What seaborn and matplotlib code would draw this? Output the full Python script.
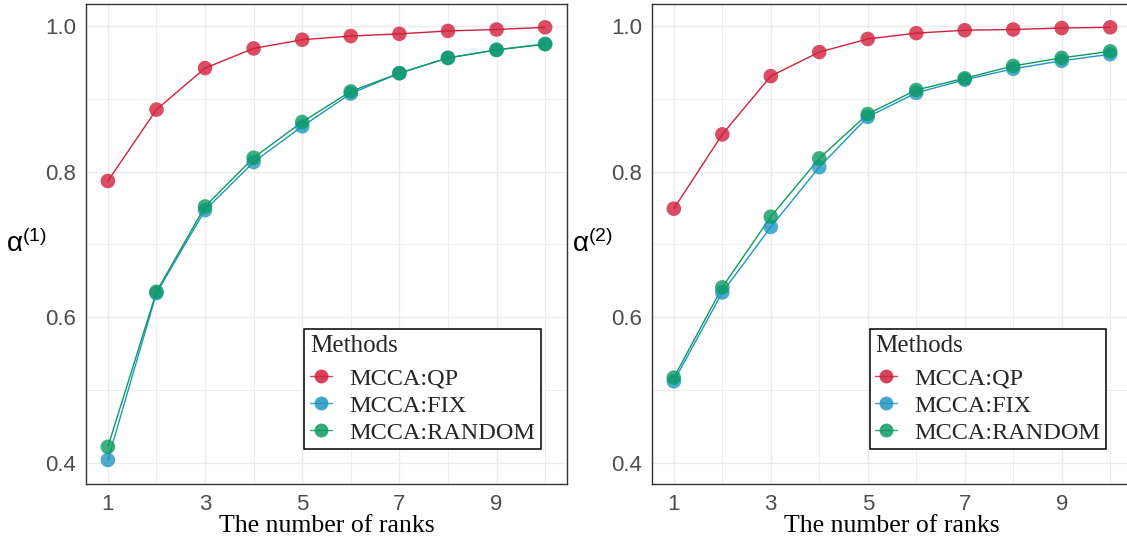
import numpy as np
import pandas as pd
import matplotlib
matplotlib.use("Agg")
import matplotlib.pyplot as plt
from matplotlib.lines import Line2D
from matplotlib.ticker import FixedLocator
import seaborn as sns

# ---------------- data ----------------
ranks = [1, 2, 3, 4, 5, 6, 7, 8, 9, 10]
methods = ["MCCA:QP", "MCCA:FIX", "MCCA:RANDOM"]

alpha1_qp = [0.787, 0.885, 0.942, 0.969, 0.981, 0.986, 0.989, 0.993, 0.995, 0.998]
alpha1_fix = [0.404, 0.633, 0.747, 0.813, 0.862, 0.907, 0.935, 0.956, 0.967, 0.975]
alpha1_random = [0.422, 0.635, 0.752, 0.819, 0.868, 0.910, 0.935, 0.956, 0.967, 0.975]

alpha2_qp = [0.749, 0.851, 0.931, 0.964, 0.982, 0.990, 0.994, 0.995, 0.997, 0.998]
alpha2_fix = [0.512, 0.634, 0.724, 0.806, 0.875, 0.908, 0.926, 0.941, 0.952, 0.961]
alpha2_random = [0.517, 0.641, 0.738, 0.818, 0.879, 0.912, 0.928, 0.945, 0.956, 0.965]

x_ticks = [1, 3, 5, 7, 9]
y_ticks = [0.4, 0.6, 0.8, 1.0]
y_labels = ["0.4", "0.6", "0.8", "1.0"]

palette = {"MCCA:QP": "#D1203D", "MCCA:FIX": "#1F97C2", "MCCA:RANDOM": "#0D9A61"}


def make_df(qp, fix, rnd):
    frames = []
    for m, vals in zip(methods, [qp, fix, rnd]):
        frames.append(pd.DataFrame({"rank": ranks, "value": vals, "method": m}))
    return pd.concat(frames, ignore_index=True)


df1 = make_df(alpha1_qp, alpha1_fix, alpha1_random)
df2 = make_df(alpha2_qp, alpha2_fix, alpha2_random)

# ---------------- style ----------------
sns.set_theme(style="white")
plt.rcParams["font.family"] = ["Liberation Sans", "DejaVu Sans"]
plt.rcParams["mathtext.fontset"] = "custom"
plt.rcParams["mathtext.rm"] = "Liberation Sans"
plt.rcParams["mathtext.it"] = "Liberation Sans:italic"

W, H = 1127, 540
fig = plt.figure(figsize=(W / 100, H / 100), dpi=100)
fig.patch.set_facecolor("white")

ax1 = fig.add_axes([86 / W, (H - 484) / H, 481 / W, 480 / H])
ax2 = fig.add_axes([652 / W, (H - 484) / H, 480 / W, 480 / H])

serif = "Liberation Serif"

for ax, df, lab in [(ax1, df1, r"$\mathrm{\alpha}^{(1)}$"), (ax2, df2, r"$\mathrm{\alpha}^{(2)}$")]:
    ax.set_facecolor("white")
    # grid
    ax.xaxis.set_major_locator(FixedLocator(x_ticks))
    ax.xaxis.set_minor_locator(FixedLocator([2, 4, 6, 8, 10]))
    ax.yaxis.set_major_locator(FixedLocator(y_ticks))
    ax.yaxis.set_minor_locator(FixedLocator([0.5, 0.7, 0.9]))
    ax.grid(True, which="major", color="#EBEBEB", linewidth=1.0)
    ax.grid(True, which="minor", color="#EBEBEB", linewidth=0.6)
    ax.set_axisbelow(True)

    sns.lineplot(data=df, x="rank", y="value", hue="method", hue_order=methods,
                 palette=palette, linewidth=1.0, legend=False, ax=ax, zorder=2)
    sns.scatterplot(data=df, x="rank", y="value", hue="method", hue_order=methods,
                    palette=palette, s=110, alpha=0.8, edgecolor="none",
                    legend=False, ax=ax, zorder=3)

    ax.set_xlim(0.55, 10.45)
    ax.set_ylim(0.371, 1.030)
    ax.set_yticklabels(y_labels)

    for sp in ax.spines.values():
        sp.set_visible(True)
        sp.set_color("#333333")
        sp.set_linewidth(1.0)

    ax.tick_params(axis="both", which="major", length=4, width=0.8, color="#333333",
                   labelcolor="#4D4D4D", labelsize=16, pad=3)
    ax.tick_params(axis="both", which="minor", length=0)

    ax.set_xlabel("The number of ranks", fontfamily=serif, fontsize=18.5, color="black", labelpad=0.5)
    ax.set_ylabel(lab, rotation=0, fontsize=20, color="black", ha="center", va="center")
    ax.yaxis.set_label_coords(-0.124, 0.5)

    handles = [Line2D([0], [0], color=palette[m], linewidth=1.0, marker="o",
                      markersize=10, markeredgewidth=0, alpha=0.85) for m in methods]
    leg = ax.legend(handles, methods, title="Methods", loc="lower right",
                    bbox_to_anchor=(0.946, 0.073), borderaxespad=0,
                    prop={"family": serif, "size": 17.5},
                    title_fontproperties={"family": serif, "size": 18},
                    frameon=True, fancybox=False, framealpha=1, edgecolor="black",
                    handlelength=0.92, handletextpad=0.72, labelspacing=0.2,
                    borderpad=0.22, alignment="left")
    leg._legend_box.sep = 8
    leg.get_frame().set_linewidth(1.1)

fig.savefig("out.png", dpi=100)
